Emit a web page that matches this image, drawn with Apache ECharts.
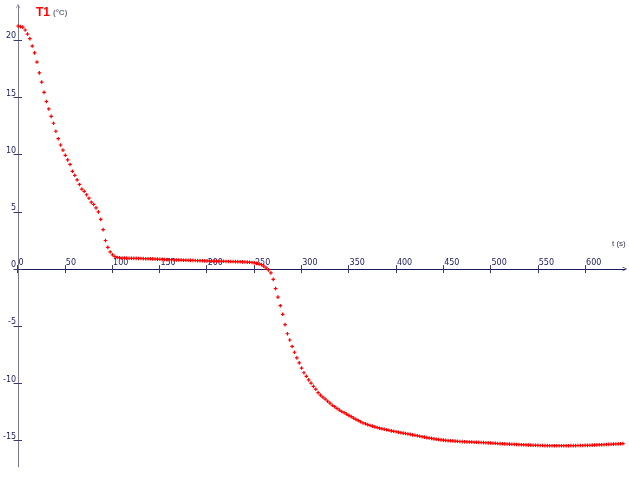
<!DOCTYPE html>
<html>
<head>
<meta charset="utf-8">
<script src="https://cdn.jsdelivr.net/npm/echarts@6/dist/echarts.min.js"></script>
<style>html,body{margin:0;padding:0;background:#fff}#c{width:629px;height:480px}</style>
</head>
<body>
<div id="c"></div>
<script>
// time (s)
var times = [
  0, 2.5, 5, 7.5, 10, 12.5, 15, 17.5, 20, 22.5,
  25, 27.5, 30, 32.5, 35, 37.5, 40, 42.5, 45, 47.5,
  50, 52.5, 55, 57.5, 60, 62.5, 65, 67.5, 70, 72.5,
  75, 77.5, 80, 82.5, 85, 87.5, 90, 92.5, 95, 97.5,
  100, 102.5, 105, 107.5, 110, 112.5, 115, 117.5, 120, 122.5,
  125, 127.5, 130, 132.5, 135, 137.5, 140, 142.5, 145, 147.5,
  150, 152.5, 155, 157.5, 160, 162.5, 165, 167.5, 170, 172.5,
  175, 177.5, 180, 182.5, 185, 187.5, 190, 192.5, 195, 197.5,
  200, 202.5, 205, 207.5, 210, 212.5, 215, 217.5, 220, 222.5,
  225, 227.5, 230, 232.5, 235, 237.5, 240, 242.5, 245, 247.5,
  250, 252.5, 255, 257.5, 260, 262.5, 265, 267.5, 270, 272.5,
  275, 277.5, 280, 282.5, 285, 287.5, 290, 292.5, 295, 297.5,
  300, 302.5, 305, 307.5, 310, 312.5, 315, 317.5, 320, 322.5,
  325, 327.5, 330, 332.5, 335, 337.5, 340, 342.5, 345, 347.5,
  350, 352.5, 355, 357.5, 360, 362.5, 365, 367.5, 370, 372.5,
  375, 377.5, 380, 382.5, 385, 387.5, 390, 392.5, 395, 397.5,
  400, 402.5, 405, 407.5, 410, 412.5, 415, 417.5, 420, 422.5,
  425, 427.5, 430, 432.5, 435, 437.5, 440, 442.5, 445, 447.5,
  450, 452.5, 455, 457.5, 460, 462.5, 465, 467.5, 470, 472.5,
  475, 477.5, 480, 482.5, 485, 487.5, 490, 492.5, 495, 497.5,
  500, 502.5, 505, 507.5, 510, 512.5, 515, 517.5, 520, 522.5,
  525, 527.5, 530, 532.5, 535, 537.5, 540, 542.5, 545, 547.5,
  550, 552.5, 555, 557.5, 560, 562.5, 565, 567.5, 570, 572.5,
  575, 577.5, 580, 582.5, 585, 587.5, 590, 592.5, 595, 597.5,
  600, 602.5, 605, 607.5, 610, 612.5, 615, 617.5, 620, 622.5,
  625, 627.5, 630, 632.5, 635, 637.5, 640
];
// T1 (°C)
var temps = [
  21.25, 21.2, 21.15, 20.9, 20.55, 20.15, 19.5, 18.9, 18.1, 17.15,
  16.35, 15.45, 14.65, 14.0, 13.35, 12.75, 12.05, 11.4, 10.85, 10.4,
  9.95, 9.55, 9.15, 8.55, 8.2, 7.8, 7.4, 7.0, 6.8, 6.5,
  6.2, 5.85, 5.65, 5.35, 5.0, 4.35, 3.45, 2.5, 1.9, 1.5,
  1.25, 1.1, 1.02, 0.98, 0.96, 0.97, 0.96, 0.95, 0.95, 0.94,
  0.94, 0.93, 0.93, 0.92, 0.91, 0.9, 0.9, 0.89, 0.88, 0.87,
  0.86, 0.85, 0.84, 0.83, 0.82, 0.82, 0.81, 0.8, 0.8, 0.79,
  0.78, 0.78, 0.77, 0.76, 0.76, 0.75, 0.74, 0.74, 0.73, 0.72,
  0.72, 0.71, 0.7, 0.7, 0.69, 0.69, 0.68, 0.68, 0.67, 0.67,
  0.66, 0.66, 0.65, 0.65, 0.64, 0.63, 0.62, 0.61, 0.6, 0.58,
  0.55, 0.5, 0.46, 0.39, 0.26, 0.1, -0.07, -0.33, -0.9, -1.7,
  -2.45, -3.2, -3.95, -4.85, -5.65, -6.2, -6.76, -7.27, -7.76, -8.2,
  -8.65, -9.06, -9.37, -9.68, -9.96, -10.25, -10.5, -10.8, -11.02, -11.2,
  -11.36, -11.55, -11.72, -11.9, -12.03, -12.18, -12.32, -12.45, -12.55, -12.67,
  -12.79, -12.9, -13.02, -13.14, -13.24, -13.35, -13.45, -13.52, -13.6, -13.67,
  -13.73, -13.79, -13.85, -13.91, -13.96, -14.0, -14.04, -14.09, -14.14, -14.18,
  -14.22, -14.26, -14.3, -14.34, -14.37, -14.41, -14.45, -14.49, -14.53, -14.57,
  -14.61, -14.65, -14.69, -14.73, -14.77, -14.8, -14.84, -14.87, -14.9, -14.93,
  -14.95, -14.97, -14.99, -15.01, -15.02, -15.04, -15.05, -15.07, -15.08, -15.09,
  -15.1, -15.11, -15.12, -15.13, -15.14, -15.15, -15.16, -15.17, -15.18, -15.19,
  -15.2, -15.22, -15.23, -15.25, -15.26, -15.27, -15.28, -15.29, -15.3, -15.31,
  -15.32, -15.33, -15.34, -15.35, -15.36, -15.37, -15.38, -15.39, -15.4, -15.4,
  -15.41, -15.42, -15.42, -15.43, -15.43, -15.44, -15.44, -15.44, -15.44, -15.44,
  -15.44, -15.44, -15.44, -15.44, -15.43, -15.43, -15.43, -15.42, -15.42, -15.42,
  -15.41, -15.41, -15.4, -15.39, -15.38, -15.37, -15.36, -15.35, -15.34, -15.33,
  -15.32, -15.31, -15.3, -15.29, -15.28, -15.27, -15.26
];
var xTicks = [0, 50, 100, 150, 200, 250, 300, 350, 400, 450, 500, 550, 600];
var yTicks = [-15, -10, -5, 0, 5, 10, 15, 20];

var points = times.map(function (t, i) { return [t, temps[i]]; });

var X_MIN = 0, X_MAX = 642, Y_MIN = -17.3, Y_MAX = 23;
var navy = '#1a1a5e';
var tickColor = '#3a3a70';
var chevron = 'path://M0,10 L5,0 L10,10 L8.6,10 L5,2.8 L1.4,10 Z';
var plus = 'path://M1,0H2V3H1Z M0,1H3V2H0Z';

// plot rectangle
var L = 17.5, T = 6, W = 607.3, H = 461;
var zeroY = T + H * Y_MAX / (Y_MAX - Y_MIN);

function hiddenX(gi) { return { type: 'value', gridIndex: gi, min: X_MIN, max: X_MAX, show: false }; }
function hiddenY(gi) { return { type: 'value', gridIndex: gi, min: Y_MIN, max: Y_MAX, show: false }; }

var chart = echarts.init(document.getElementById('c'), null, { renderer: 'canvas' });
chart.setOption({
  animation: false,
  title: [
    {
      text: '{a|T1}{b|(°C)}',
      left: 36, top: 7, padding: 0,
      textStyle: {
        rich: {
          a: { color: '#ff0000', fontFamily: 'Liberation Sans', fontWeight: 'bold', fontSize: 12 },
          b: { color: '#707080', fontFamily: 'Liberation Sans', fontSize: 8, padding: [0, 0, 0, 3] }
        }
      }
    },
    {
      text: 't (s)',
      left: 612, top: 240, padding: 0,
      textStyle: { color: '#333355', fontFamily: 'Liberation Sans', fontSize: 8, fontWeight: 'normal' }
    }
  ],
  grid: [
    { left: L, top: T, width: W, height: H },            // data + y axis (outer ticks, labels)
    { left: L, top: T, width: W, height: H },            // y axis inner ticks
    { left: L, top: T, width: W, height: zeroY - T },    // x axis line at T=0, labels, lower ticks
    { left: L, top: zeroY, width: W, height: 10 }        // x axis upper ticks
  ],
  xAxis: [
    hiddenX(0),
    hiddenX(1),
    {
      type: 'value', gridIndex: 2, position: 'bottom', min: X_MIN, max: X_MAX,
      axisLine: { onZero: false, lineStyle: { color: navy, width: 1 }, symbol: ['none', chevron], symbolSize: [7, 4.5] },
      axisTick: { show: true, inside: false, length: 4, lineStyle: { color: tickColor }, customValues: xTicks },
      axisLabel: { show: true, inside: true, align: 'left', margin: 2, padding: [0, 0, 0, 1], customValues: xTicks, color: navy, fontFamily: 'DejaVu Sans', fontSize: 8 },
      splitLine: { show: false }
    },
    {
      type: 'value', gridIndex: 3, position: 'top', min: X_MIN, max: X_MAX,
      axisLine: { show: false, onZero: false },
      axisTick: { show: true, inside: false, length: 4, lineStyle: { color: tickColor }, customValues: xTicks },
      axisLabel: { show: false },
      splitLine: { show: false }
    }
  ],
  yAxis: [
    {
      type: 'value', gridIndex: 0, position: 'left', min: Y_MIN, max: Y_MAX,
      axisLine: { onZero: false, lineStyle: { color: '#7a7a98', width: 1 }, symbol: ['none', chevron], symbolSize: [7, 4.5] },
      axisTick: { show: true, inside: false, length: 4.5, lineStyle: { color: tickColor }, customValues: yTicks },
      axisLabel: { show: true, align: 'right', verticalAlign: 'bottom', margin: 2, customValues: yTicks, color: navy, fontFamily: 'DejaVu Sans', fontSize: 8 },
      splitLine: { show: false }
    },
    {
      type: 'value', gridIndex: 1, position: 'left', min: Y_MIN, max: Y_MAX,
      axisLine: { show: false, onZero: false },
      axisTick: { show: true, inside: true, length: 4.5, lineStyle: { color: tickColor }, customValues: yTicks },
      axisLabel: { show: false },
      splitLine: { show: false }
    },
    hiddenY(2),
    hiddenY(3)
  ],
  series: [{
    type: 'scatter',
    xAxisIndex: 0, yAxisIndex: 0,
    data: points,
    symbol: plus,
    symbolSize: 3.6,
    itemStyle: { color: '#ff0000', opacity: 1 },
    silent: true
  }]
});
</script>
</body>
</html>
